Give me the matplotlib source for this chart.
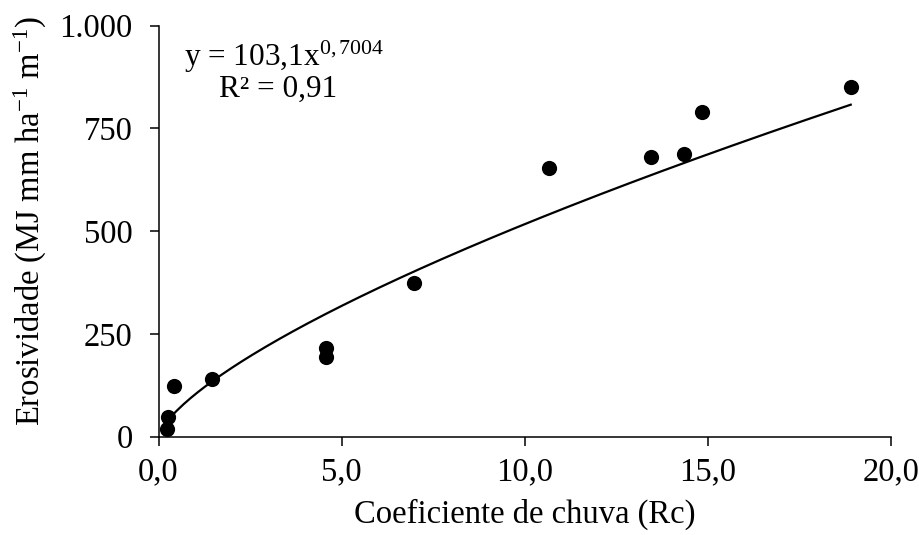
import numpy as np
import matplotlib
matplotlib.use("Agg")
import matplotlib.pyplot as plt

plt.rcParams['font.family'] = ['Liberation Serif', 'DejaVu Serif']
plt.rcParams['mathtext.fontset'] = 'custom'
plt.rcParams['mathtext.rm'] = 'Liberation Serif'
plt.rcParams['mathtext.it'] = 'Liberation Serif:italic'

# observed pairs: rain coefficient vs erosivity
rc = [0.22, 0.25, 0.42, 1.47, 4.56, 4.56, 6.97, 10.67, 13.44, 14.35, 14.83, 18.9]
erosividade = [19, 47, 123, 141, 215, 195, 375, 654, 680, 689, 791, 851]

# power fit y = a * x^b
a_fit = 103.1
b_fit = 0.7004

x_ticks = [0, 5, 10, 15, 20]
x_labels = ["0,0", "5,0", "10,0", "15,0", "20,0"]
y_ticks = [0, 250, 500, 750, 1000]
y_labels = ["0", "250", "500", "750", "1.000"]

fig = plt.figure(figsize=(9.2, 5.35), dpi=100)
ax = fig.add_axes([0.1723, 0.1837, 0.7962, 0.7683])

xf = np.linspace(min(rc), max(rc), 200)
ax.plot(xf, a_fit * xf ** b_fit, color='black', lw=1.6, zorder=2)
ax.scatter(rc, erosividade, s=120, color='black', zorder=3, linewidths=0)

ax.set_xlim(0, 20)
ax.set_ylim(0, 1000)
ax.set_xticks(x_ticks)
ax.set_xticklabels(x_labels)
ax.set_yticks(y_ticks)
ax.set_yticklabels(y_labels)
ax.tick_params(direction='out', length=6.5, width=1.1, labelsize=23.5)
ax.tick_params(axis='y', pad=12)
ax.tick_params(axis='x', pad=8)

for s in ['top', 'right']:
    ax.spines[s].set_visible(False)
for s in ['left', 'bottom']:
    ax.spines[s].set_linewidth(1.1)

ax.set_xlabel("Coeficiente de chuva (Rc)", fontsize=23.5)
ax.set_ylabel(r"Erosividade (MJ mm ha$^{\mathrm{-1}}$ m$^{\mathrm{-1}}$)", fontsize=23.5)
ax.xaxis.set_label_coords(0.5, -0.15)
ax.yaxis.set_label_coords(-0.15, 0.525)

fig.text(284 / 920, 1 - 57 / 535, r"y = 103,1x$^{\mathrm{0,7004}}$", fontsize=22.5,
         ha='center', va='center')
fig.text(278 / 920, 1 - 89 / 535, "R² = 0,91", fontsize=22.5, ha='center', va='center')

fig.savefig("out.png", dpi=100)
